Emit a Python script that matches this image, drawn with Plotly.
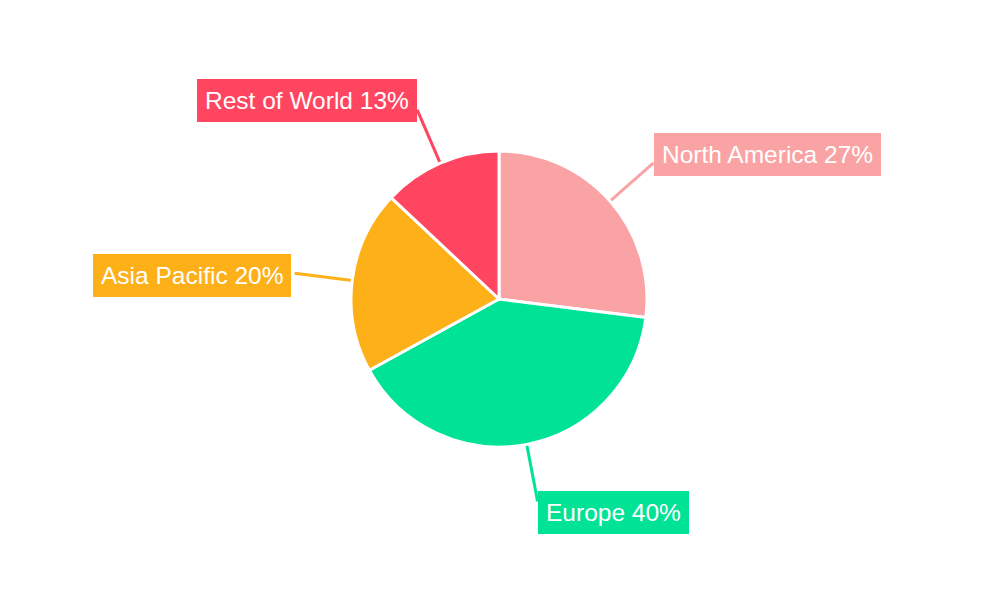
import math
import plotly.graph_objects as go

# ---- data ----
regions = ["North America", "Europe", "Asia Pacific", "Rest of World"]
shares = [27, 40, 20, 13]
colors = ["#F9A3A4", "#00E396", "#FEB019", "#FF4560"]

# ---- style / layout ----
W, H = 1000, 600
CX, CY, R = 491, 291, 148      # pie centre & radius in figure pixels (page has 8px body margin)
LINE_LEN = 58
FONT = "Liberation Sans, Arial, sans-serif"

fig = go.Figure()

fig.add_trace(go.Pie(
    labels=regions, values=shares, sort=False, direction="clockwise", rotation=0,
    marker=dict(colors=colors, line=dict(color="white", width=3)),
    textinfo="none", hoverinfo="label+percent", showlegend=False,
    domain=dict(x=[(CX - R) / W, (CX + R) / W],
                y=[(H - CY - R) / H, (H - CY + R) / H]),
))

total = sum(shares)
cum = 0
annotations = []
for name, v, c in zip(regions, shares, colors):
    mid = (cum + v / 2) / total * 2 * math.pi
    cum += v
    s, co = math.sin(mid), math.cos(mid)
    sx, sy = CX + R * s, CY - R * co
    ex, ey = CX + (R + LINE_LEN) * s, CY - (R + LINE_LEN) * co
    fig.add_trace(go.Scatter(x=[sx, ex], y=[sy, ey], mode="lines",
                             line=dict(color=c, width=3), hoverinfo="skip",
                             showlegend=False, xaxis="x", yaxis="y"))
    xanchor = "left" if s > 0 else "right"
    xshift = 0
    if abs(co) > 0.8:
        if co < 0:
            yanchor, yshift = "top", 10
        else:
            yanchor, yshift = "bottom", -12
    else:
        yanchor = "middle"
        if s > 0:
            yshift = 8
        else:
            yshift, xshift = -2, -4
    pct = round(v / total * 100)
    annotations.append(dict(
        x=ex, y=ey, xref="x", yref="y", text=f"{name} {pct}%", showarrow=False,
        xanchor=xanchor, yanchor=yanchor, yshift=yshift, xshift=xshift,
        font=dict(family=FONT, size=24.5, color="white"),
        bgcolor=c, borderpad=8, borderwidth=0,
    ))

fig.update_layout(
    width=W, height=H, margin=dict(l=0, r=0, t=0, b=0),
    paper_bgcolor="white", plot_bgcolor="rgba(0,0,0,0)",
    xaxis=dict(range=[0, W], visible=False, fixedrange=True),
    yaxis=dict(range=[H, 0], visible=False, fixedrange=True),
    annotations=annotations, showlegend=False,
)

fig.write_html("out.html")
